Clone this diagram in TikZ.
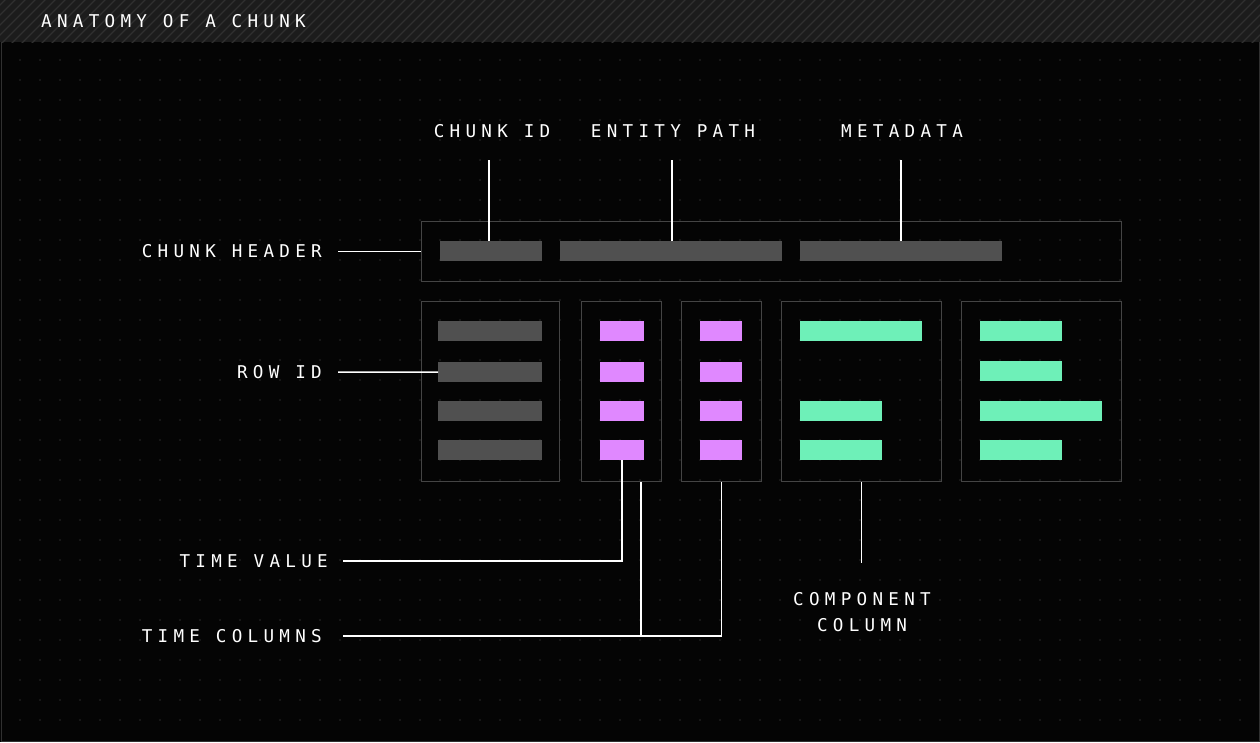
\documentclass[tikz,border=0pt]{standalone}
\usepackage{fontspec}
\newfontfamily\labfont{DejaVu Sans Mono}[LetterSpace=30]
\definecolor{bg}{HTML}{040404}
\definecolor{band}{HTML}{1C1C1C}
\definecolor{stripe}{HTML}{303030}
\definecolor{dotc}{HTML}{2A2A2A}
\definecolor{frame}{HTML}{444444}
\definecolor{bar}{HTML}{505050}
\definecolor{pink}{HTML}{E088FF}
\definecolor{mint}{HTML}{6EF0B8}
\tikzset{
  box/.style={draw=frame, line width=1.2pt, inner sep=0pt, anchor=north west},
  cell/.style={inner sep=0pt, anchor=north west, minimum height=20pt},
  gray cell/.style={cell, fill=bar},
  time cell/.style={cell, fill=pink},
  comp cell/.style={cell, fill=mint},
  lab/.style={text=white, font=\labfont\fontsize{17.6}{20}\selectfont, inner sep=0pt},
  lead/.style={draw=white, line width=1.5pt}
}
\begin{document}
\begin{tikzpicture}[x=1pt,y=-1pt]
  \useasboundingbox (0,0) rectangle (1260,742);
  \fill[bg] (0,0) rectangle (1260,742);
  % dotted grid
  \foreach \i in {1,...,62}{
    \foreach \j in {3,...,36}{
      \fill[dotc] (20*\i,20*\j) circle (0.9pt);}}
  % title band
  \fill[band] (0,0) rectangle (1260,42);
  \begin{scope}
    \clip (0,0) rectangle (1260,42);
    \foreach \i in {0,...,135}{
      \draw[stripe, line width=1.3pt] (10*\i-50,45) -- (10*\i,-5);}
  \end{scope}
  \draw[stripe, line width=1pt] (1,42) -- (1,741) -- (1259,741) -- (1259,42);
  \node[lab, anchor=west] (title) at (41,21) {ANATOMY OF A CHUNK};

  % header
  \node[box, minimum width=700pt, minimum height=60pt] (hdr) at (421,221) {};
  \node[gray cell, minimum width=102pt] (cid) at (440,241) {};
  \node[gray cell, minimum width=222pt] (epath) at (560,241) {};
  \node[gray cell, minimum width=202pt] (meta) at (800,241) {};

  % columns
  \node[box, minimum width=138pt, minimum height=180pt] (rowcol) at (421,301) {};
  \node[box, minimum width=80pt, minimum height=180pt] (tcolA) at (581,301) {};
  \node[box, minimum width=80pt, minimum height=180pt] (tcolB) at (681,301) {};
  \node[box, minimum width=160pt, minimum height=180pt] (ccolA) at (781,301) {};
  \node[box, minimum width=160pt, minimum height=180pt] (ccolB) at (961,301) {};
  \foreach \y [count=\k] in {321,362,401,440}{
    \node[gray cell, minimum width=104pt] (row\k) at (438,\y) {};
    \node[time cell, minimum width=44pt] (ta\k) at (600,\y) {};
    \node[time cell, minimum width=42pt] (tb\k) at (700,\y) {};}
  \node[comp cell, minimum width=122pt] (ca1) at (800,321) {};
  \node[comp cell, minimum width=82pt] (ca3) at (800,401) {};
  \node[comp cell, minimum width=82pt] (ca4) at (800,440) {};
  \foreach \y/\w [count=\k] in {321/82,361/82,401/122,440/82}{
    \node[comp cell, minimum width=\w pt] (cb\k) at (980,\y) {};}

  % labels
  \node[lab] (lcid) at (492,131) {CHUNK ID};
  \node[lab] (lpath) at (673,131) {ENTITY PATH};
  \node[lab] (lmeta) at (902,131) {METADATA};
  \node[lab, anchor=east] (lhdr) at (322,251) {CHUNK HEADER};
  \node[lab, anchor=east] (lrow) at (322,372) {ROW ID};
  \node[lab, anchor=east] (ltime) at (328,561) {TIME VALUE};
  \node[lab, anchor=east] (ltcols) at (322,636) {TIME COLUMNS};
  \node[lab, align=center, font=\labfont\fontsize{17.6}{26}\selectfont] (lcomp) at (862,612) {COMPONENT\\COLUMN};
  \coordinate (tj) at (641,636);

  % leaders
  \draw[lead] (cid.north) ++(-2,0) -- ++(0,-81);
  \draw[lead] (epath.north) ++(1,0) -- ++(0,-81);
  \draw[lead] (meta.north) -- ++(0,-81);
  \draw[lead] (hdr.west) ++(-83,0) -- (hdr.west);
  \draw[lead] (lrow.east) ++(16,0) -- (row2.west);
  \draw[lead] (ltime.east) ++(15,0) -| (ta4.south);
  \draw[lead] (ltcols.east) ++(21,0) -- (tj) -- (tj |- tcolA.south);
  \draw[lead] (tj) -| (tcolB.south);
  \draw[lead] (ccolA.south) -- ++(0,81);
\end{tikzpicture}
\end{document}
